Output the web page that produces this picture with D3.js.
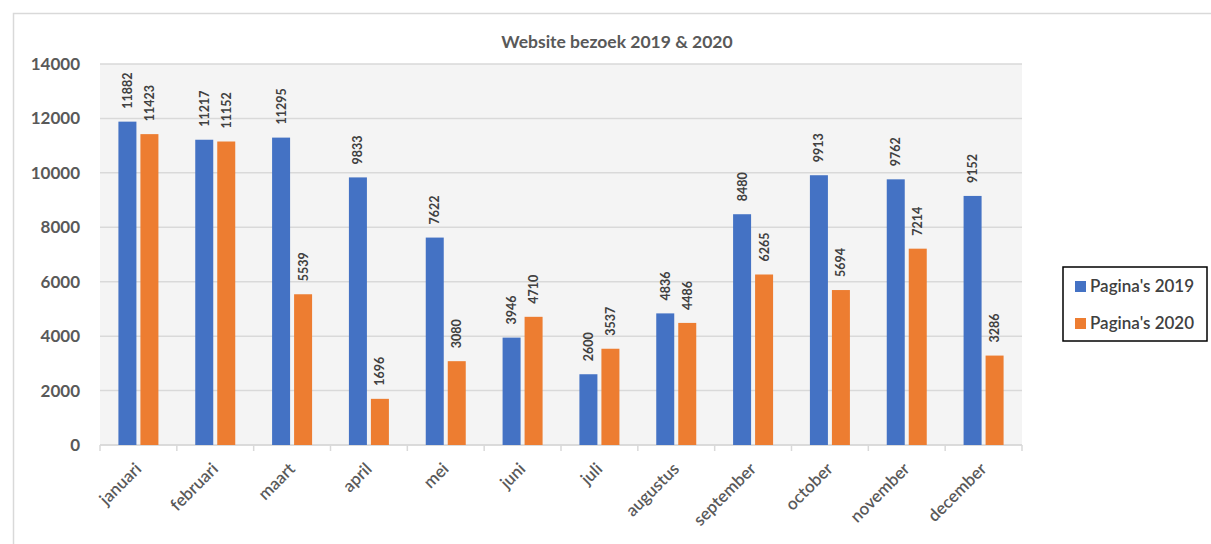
<!DOCTYPE html>
<html>
<head>
<meta charset="utf-8">
<script src="https://cdn.jsdelivr.net/npm/d3@7"></script>
<style>
  body { margin: 0; background: #fff; overflow: hidden; }
  svg { font-family: Lato, "Open Sans", sans-serif; display: block; }
</style>
</head>
<body>
<div id="chart"></div>
<script>
const months = ['januari', 'februari', 'maart', 'april', 'mei', 'juni', 'juli',
  'augustus', 'september', 'october', 'november', 'december'];
const pages2019 = [11882, 11217, 11295, 9833, 7622, 3946, 2600, 4836, 8480, 9913, 9762, 9152];
const pages2020 = [11423, 11152, 5539, 1696, 3080, 4710, 3537, 4486, 6265, 5694, 7214, 3286];
const seriesNames = ["Pagina's 2019", "Pagina's 2020"];
const yTicks = [0, 2000, 4000, 6000, 8000, 10000, 12000, 14000];

const colors = ['#4472C4', '#ED7D31'];

const width = 1211, height = 544;
const plot = { left: 100, right: 1022, top: 64, bottom: 445 };

const svg = d3.select('#chart').append('svg')
  .attr('width', width)
  .attr('height', height);

// outer chart frame (right and bottom edges fall outside the picture)
svg.append('rect')
  .attr('x', 13.5).attr('y', 13.5)
  .attr('width', 1210).attr('height', 560)
  .attr('fill', '#fff')
  .attr('stroke', '#d9d9d9')
  .attr('stroke-width', 1.5);

// plot area background
svg.append('rect')
  .attr('x', plot.left).attr('y', plot.top)
  .attr('width', plot.right - plot.left).attr('height', plot.bottom - plot.top)
  .attr('fill', '#f4f4f4');

const x = d3.scaleBand().domain(months).range([plot.left, plot.right]);
const y = d3.scaleLinear().domain([0, 14000]).range([plot.bottom, plot.top]);

const barW = 18, barGap = 4;

// gridlines
svg.append('g')
  .selectAll('line')
  .data(yTicks)
  .join('line')
  .attr('x1', plot.left).attr('x2', plot.right)
  .attr('y1', d => y(d)).attr('y2', d => y(d))
  .attr('stroke', '#d9d9d9')
  .attr('stroke-width', 1.5);

// y axis labels
const yAxis = svg.append('g')
  .attr('transform', `translate(${plot.left},0)`)
  .call(d3.axisLeft(y).tickValues(yTicks).tickSize(0).tickPadding(20).tickFormat(d3.format('d')));
yAxis.select('.domain').remove();
yAxis.selectAll('text')
  .attr('font-family', 'Lato, sans-serif')
  .attr('font-size', 17)
  .attr('font-weight', 'bold')
  .attr('fill', '#595959');

// x axis line + ticks at category boundaries
svg.append('line')
  .attr('x1', plot.left).attr('x2', plot.right)
  .attr('y1', plot.bottom).attr('y2', plot.bottom)
  .attr('stroke', '#d9d9d9').attr('stroke-width', 1.5);

const bounds = months.map(m => x(m)).concat([plot.right]);
svg.append('g')
  .selectAll('line')
  .data(bounds)
  .join('line')
  .attr('x1', d => d).attr('x2', d => d)
  .attr('y1', plot.bottom).attr('y2', plot.bottom + 6)
  .attr('stroke', '#d9d9d9').attr('stroke-width', 1.5);

// x labels
svg.append('g')
  .selectAll('text')
  .data(months)
  .join('text')
  .attr('transform', d => `translate(${x(d) + x.bandwidth() / 2 + 4},${plot.bottom + 25}) rotate(-45)`)
  .attr('text-anchor', 'end')
  .attr('font-size', 17)
  .attr('font-weight', 600)
  .attr('fill', '#595959')
  .text(d => d);

// bars
const series = [pages2019, pages2020];
series.forEach((vals, si) => {
  const offset = si === 0 ? -barGap / 2 - barW : barGap / 2;
  const g = svg.append('g');
  g.selectAll('rect')
    .data(vals)
    .join('rect')
    .attr('x', (d, i) => x(months[i]) + x.bandwidth() / 2 + offset)
    .attr('y', d => y(d))
    .attr('width', barW)
    .attr('height', d => y(0) - y(d))
    .attr('fill', colors[si]);

  g.selectAll('text')
    .data(vals)
    .join('text')
    .attr('transform', (d, i) =>
      `translate(${x(months[i]) + x.bandwidth() / 2 + offset + barW / 2 + 4.5},${y(d) - 13}) rotate(-90)`)
    .attr('text-anchor', 'start')
    .attr('font-size', 12.5)
    .attr('font-weight', 'bold')
    .attr('fill', '#404040')
    .text(d => d);
});

// title
svg.append('text')
  .attr('x', 617).attr('y', 48)
  .attr('text-anchor', 'middle')
  .attr('font-size', 17.5)
  .attr('font-weight', 'bold')
  .attr('fill', '#595959')
  .text('Website bezoek 2019 & 2020');

// legend
const legend = svg.append('g');
legend.append('rect')
  .attr('x', 1063).attr('y', 267)
  .attr('width', 144).attr('height', 74)
  .attr('fill', '#fff')
  .attr('stroke', '#000')
  .attr('stroke-width', 1.5);

seriesNames.forEach((name, i) => {
  const ly = 287 + i * 37;
  legend.append('rect')
    .attr('x', 1075).attr('y', ly - 6)
    .attr('width', 11).attr('height', 11)
    .attr('fill', colors[i]);
  legend.append('text')
    .attr('x', 1090).attr('y', ly + 5)
    .attr('font-size', 17)
    .attr('font-weight', 600)
    .attr('fill', '#404040')
    .text(name);
});
</script>
</body>
</html>
